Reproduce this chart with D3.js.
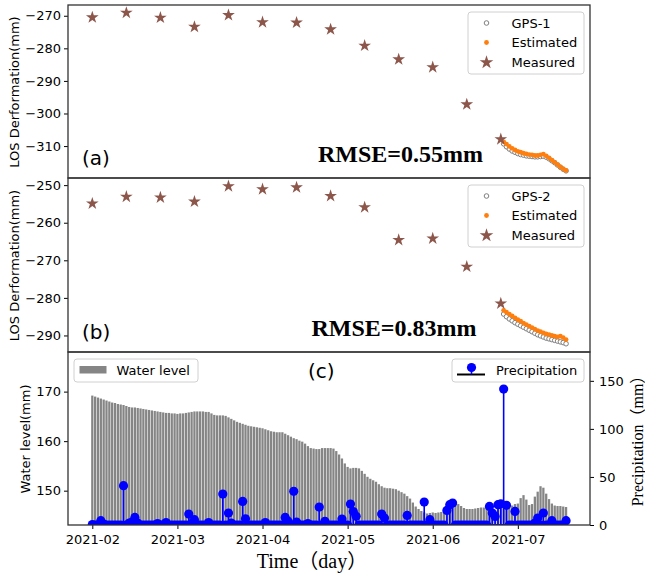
<!DOCTYPE html>
<html>
<head>
<meta charset="utf-8">
<script src="https://cdn.jsdelivr.net/npm/d3@7"></script>
<style>
  body { margin: 0; background: #fff; }
  svg text { font-family: "DejaVu Sans", sans-serif; }
  .serif { font-family: "Liberation Serif", "Noto Sans CJK SC", serif; }
</style>
</head>
<body>
<svg id="svg" width="645" height="580"></svg>
<script>
// Daily series start on this date
const startDate = "2021-02-01";
const gpsStart = "2021-06-26";

// InSAR measured epochs (12-day revisit)
const measuredDates = ["2021-02-01", "2021-02-13", "2021-02-25", "2021-03-09", "2021-03-21", "2021-04-02",
  "2021-04-14", "2021-04-26", "2021-05-08", "2021-05-20", "2021-06-01", "2021-06-13", "2021-06-25"];
const measured1 = [-270.5, -269.1, -270.6, -273.4, -269.8, -272.0, -272.1, -274.2, -279.2, -283.4, -285.8, -297.2, -307.9];
const measured2 = [-254.9, -253.1, -253.3, -254.4, -250.3, -251.1, -250.6, -252.9, -255.9, -264.6, -264.2, -271.7, -281.5];

// GPS and estimated daily values from gpsStart
const gps1 = [-309.3, -310.2, -310.9, -311.5, -311.9, -312.3, -312.6, -312.8, -313.0, -313.1, -313.2, -313.3,
  -313.3, -313.2, -313.1, -313.4, -313.9, -314.5, -315.1, -315.8, -316.5, -317.1, -317.6];
const est1 = [-308.7, -309.4, -310.1, -310.7, -311.2, -311.6, -311.9, -312.2, -312.4, -312.6, -312.7, -312.9,
  -312.9, -312.7, -312.5, -313.0, -313.6, -314.3, -315.0, -315.7, -316.4, -317.0, -317.5];
const gps2 = [-284.3, -285.0, -285.6, -286.1, -286.6, -287.0, -287.4, -287.8, -288.2, -288.6, -289.0, -289.4,
  -289.8, -290.1, -290.4, -290.7, -290.9, -291.1, -291.3, -291.5, -291.7, -291.9, -292.2];
const est2 = [-283.3, -283.8, -284.3, -284.8, -285.3, -285.8, -286.2, -286.7, -287.1, -287.5, -287.9, -288.3,
  -288.7, -289.0, -289.3, -289.6, -289.8, -290.0, -290.2, -290.4, -290.2, -290.6, -291.1];

// Daily water level, Feb 1 .. Jul 18
const waterLevel = [
  169.2, 169.0, 168.8, 168.6, 168.4, 168.2, 168.0, 167.8, 167.7, 167.5, 167.4, 167.3, 167.1, 166.9, 166.8, 166.8,
  166.7, 166.6, 166.5, 166.4, 166.3, 166.2, 166.1, 166.0, 165.9, 165.8, 165.7, 165.7,
  165.6, 165.6, 165.5, 165.6, 165.6, 165.7, 165.8, 165.9, 166.0, 166.0, 166.0, 166.0, 165.9, 165.9, 165.6, 165.3,
  165.2, 165.2, 165.2, 165.1, 164.8, 164.5, 164.2, 163.9, 163.7, 163.5, 163.3, 163.1, 163.0, 162.9, 162.8,
  162.7, 162.6, 162.4, 162.2, 162.0, 161.9, 161.8, 161.8, 161.8, 161.5, 161.2, 160.9, 160.6, 160.4, 160.1, 159.9,
  159.5, 159.0, 158.6, 158.5, 158.4, 158.4, 158.6, 158.6, 158.6, 158.6, 158.5, 158.0, 157.3, 156.5,
  155.5, 154.8, 154.5, 154.6, 154.6, 154.5, 154.0, 153.4, 152.8, 152.4, 152.1, 151.8, 151.3, 150.9, 150.6, 150.5,
  150.5, 150.4, 150.3, 150.0, 149.7, 149.4, 148.9, 148.4, 147.6, 146.8, 146.3, 145.9, 145.6, 145.4, 145.5,
  145.6, 145.5, 145.6, 145.7, 145.9, 146.9, 147.8, 147.8, 147.5, 147.3, 146.9, 146.5, 146.3, 146.3, 146.3, 146.4,
  146.5, 146.6, 146.6, 146.5, 146.0, 145.5, 145.8, 146.4, 147.0, 147.1, 147.1, 147.0, 147.0, 147.3,
  147.4, 148.5, 149.1, 148.2, 147.1, 147.3, 148.8, 149.8, 150.9, 150.6, 149.4, 148.3, 147.4, 147.0, 146.9, 146.9,
  146.8, 146.7
];

// Daily precipitation (mm), Feb 1 .. Jul 18
const precipitation = [
  0.5, 0, 0, 4.5, 1, 0, 0, 0, 0, 0, 0, 40.9, 0, 2, 3, 7.9, 2, 0, 0, 0, 0, 0, 0, 1.5, 0, 0, 2.5, 0,
  0, 0, 0, 0, 0, 0, 11.4, 1.5, 5.5, 0, 0, 0, 0, 2.5, 0, 0, 0, 0, 32.2, 0, 12.5, 2, 0, 0, 0, 24.5, 6.5, 0, 0, 0, 0,
  0, 0, 2.5, 0, 0, 0, 0, 0, 0, 7.9, 4, 0, 35, 3, 0, 0, 0, 1.5, 0, 0, 0, 18.7, 0, 3.8, 0, 0, 0, 0, 0, 6.2,
  0, 0, 21.8, 14, 9, 0, 0, 0, 0, 0, 0, 0, 0, 11.4, 7.3, 0, 0, 0, 0, 0, 0, 0, 10, 0, 0, 0, 0, 0, 23.9, 0, 5.5,
  0, 0, 0, 0, 0, 15.2, 21.1, 22.9, 0, 0, 0, 0, 0, 0, 0, 0, 0, 0, 0, 0, 19.3, 12.5, 8.9, 21.1, 22.1, 141.4, 20.5, 0, 0, 14.1,
  0, 0, 0, 0, 0, 0, 2, 7.3, 0, 12.5, 0, 0, 4.5, 0, 0, 0, 0, 4.5
];

// Axis ticks and labels
const xTickDates = ["2021-02-01", "2021-03-03", "2021-04-02", "2021-05-02", "2021-06-01", "2021-07-01"];
const yTicksA = [-310, -300, -290, -280, -270];
const yTicksB = [-290, -280, -270, -260, -250];
const yTicksWater = [150, 160, 170];
const yTicksRain = [0, 50, 100, 150];

const colors = {
  measured: "#8c564b",
  estimated: "#ff7f0e",
  gps: "#7f7f7f",
  water: "#858585",
  rain: "#0000ff",
  frame: "#333"
};

const attr = {
  left: 68,
  right: 590,
  panels: [{ top: 5, bottom: 178 }, { top: 178, bottom: 352 }, { top: 352, bottom: 525 }]
};

const svg = d3.select("svg#svg");
const parseDate = d3.utcParse("%Y-%m-%d");
const dayMs = 864e5;
const t0 = parseDate(startDate);
const dayAt = (start, i) => d3.utcDay.offset(parseDate(start), i);

const x = d3.scaleUtc()
  .domain([new Date(+t0 - 8.57 * dayMs), new Date(+t0 + 175.44 * dayMs)])
  .range([attr.left, attr.right]);

var translate = function(a, b) {
  return "translate(" + a + "," + b + ")";
};

var styleAxis = function(g) {
  g.attr("font-family", "DejaVu Sans").attr("font-size", 13);
  g.select(".domain").remove();
  g.selectAll(".tick line").attr("stroke", "#000").attr("stroke-width", 1);
  g.selectAll(".tick text").attr("fill", "#000");
};

var addClip = function(id, p) {
  svg.append("clipPath").attr("id", id)
    .append("rect")
    .attr("x", attr.left).attr("y", p.top)
    .attr("width", attr.right - attr.left).attr("height", p.bottom - p.top);
  return "url(#" + id + ")";
};

var drawFrame = function(p) {
  svg.append("rect")
    .attr("x", attr.left).attr("y", p.top)
    .attr("width", attr.right - attr.left).attr("height", p.bottom - p.top)
    .attr("fill", "none")
    .attr("stroke", colors.frame)
    .attr("stroke-width", 1.3);
};

var starPath = d3.symbol().type(d3.symbolStar);

var drawDeformation = function(opt) {
  let p = opt.panel;
  let y = d3.scaleLinear().domain(opt.domain).range([p.bottom, p.top]);
  let clip = addClip(opt.id, p);
  let g = svg.append("g").attr("clip-path", clip);

  let gpsData = opt.gps.map((v, i) => ({ date: dayAt(gpsStart, i), v: v }));
  let estData = opt.est.map((v, i) => ({ date: dayAt(gpsStart, i), v: v }));
  let measData = opt.measured.map((v, i) => ({ date: parseDate(measuredDates[i]), v: v }));

  g.selectAll("circle.gps")
    .data(gpsData).enter().append("circle")
    .attr("class", "gps")
    .attr("cx", d => x(d.date)).attr("cy", d => y(d.v))
    .attr("r", 2.3)
    .attr("fill", "#fff").attr("stroke", colors.gps).attr("stroke-width", 1);

  g.selectAll("circle.est")
    .data(estData).enter().append("circle")
    .attr("class", "est")
    .attr("cx", d => x(d.date)).attr("cy", d => y(d.v))
    .attr("r", 2.4)
    .attr("fill", colors.estimated);

  g.selectAll("path.meas")
    .data(measData).enter().append("path")
    .attr("class", "meas")
    .attr("d", starPath.size(50)())
    .attr("transform", d => translate(x(d.date), y(d.v)))
    .attr("fill", colors.measured);

  svg.append("g")
    .attr("transform", translate(attr.left, 0))
    .call(d3.axisLeft(y).tickValues(opt.ticks).tickSize(4).tickPadding(3))
    .call(styleAxis);

  drawFrame(p);

  // panel label and RMSE
  svg.append("text")
    .attr("x", 82).attr("y", opt.labelY)
    .attr("font-size", 20)
    .text(opt.label);

  svg.append("text")
    .attr("class", "serif")
    .attr("x", opt.rmseX).attr("y", opt.labelY - 3)
    .attr("font-size", 24).attr("font-weight", "bold")
    .text(opt.rmse);

  svg.append("text")
    .attr("transform", translate(19, (p.top + p.bottom) / 2 + 0.5) + " rotate(-90)")
    .attr("text-anchor", "middle")
    .attr("font-size", 13)
    .text("LOS Derformation(mm)");

  // legend
  let lg = svg.append("g").attr("transform", translate(468, p.top + 7));
  lg.append("rect")
    .attr("width", 116).attr("height", 62).attr("rx", 3)
    .attr("fill", "#fff").attr("fill-opacity", 0.8)
    .attr("stroke", "#d0d0d0").attr("stroke-width", 1);
  let rows = [opt.gpsName, "Estimated", "Measured"];
  rows.forEach(function(name, i) {
    let cy = 11 + i * 19.5;
    if (i == 0) {
      lg.append("circle").attr("cx", 18.5).attr("cy", cy).attr("r", 2.3)
        .attr("fill", "#fff").attr("stroke", colors.gps).attr("stroke-width", 1);
    } else if (i == 1) {
      lg.append("circle").attr("cx", 18.5).attr("cy", cy).attr("r", 2.4)
        .attr("fill", colors.estimated);
    } else {
      lg.append("path").attr("d", starPath.size(58)())
        .attr("transform", translate(18.5, cy + 0.5))
        .attr("fill", colors.measured);
    }
    lg.append("text")
      .attr("x", 43.5).attr("y", cy + 4.6)
      .attr("font-size", 13)
      .text(name);
  });
};

drawDeformation({
  id: "clipA", panel: attr.panels[0], domain: [-319.8, -266.7], ticks: yTicksA,
  gps: gps1, est: est1, measured: measured1, gpsName: "GPS-1",
  label: "(a)", labelY: 165, rmse: "RMSE=0.55mm", rmseX: 318
});

drawDeformation({
  id: "clipB", panel: attr.panels[1], domain: [-294.4, -248.1], ticks: yTicksB,
  gps: gps2, est: est2, measured: measured2, gpsName: "GPS-2",
  label: "(b)", labelY: 339, rmse: "RMSE=0.83mm", rmseX: 311.5
});

// Panel (c): water level bars + precipitation stems
(function() {
  let p = attr.panels[2];
  let yL = d3.scaleLinear().domain([143.07, 178]).range([p.bottom, p.top]);
  let yR = d3.scaleLinear().domain([0, 180]).range([p.bottom, p.top]);
  let clip = addClip("clipC", p);
  let g = svg.append("g").attr("clip-path", clip);

  let water = waterLevel.map((v, i) => ({ date: dayAt(startDate, i), v: v }));
  let rain = precipitation.map((v, i) => ({ date: dayAt(startDate, i), v: v }));
  let barW = x(new Date(+t0 + 0.8 * dayMs)) - x(t0);

  g.selectAll("rect.bar")
    .data(water).enter().append("rect")
    .attr("class", "bar")
    .attr("x", d => x(d.date) - barW / 2)
    .attr("y", d => yL(d.v))
    .attr("width", barW)
    .attr("height", d => p.bottom - yL(d.v))
    .attr("fill", colors.water);

  g.selectAll("line.stem")
    .data(rain).enter().append("line")
    .attr("class", "stem")
    .attr("x1", d => x(d.date)).attr("x2", d => x(d.date))
    .attr("y1", yR(0)).attr("y2", d => yR(d.v))
    .attr("stroke", colors.rain).attr("stroke-width", 1.6);

  g.append("line")
    .attr("x1", x(rain[0].date)).attr("x2", x(rain[rain.length - 1].date))
    .attr("y1", yR(0)).attr("y2", yR(0))
    .attr("stroke", colors.rain).attr("stroke-width", 2);

  g.selectAll("circle.rain")
    .data(rain).enter().append("circle")
    .attr("class", "rain")
    .attr("cx", d => x(d.date)).attr("cy", d => yR(d.v))
    .attr("r", 4.6)
    .attr("fill", colors.rain);

  svg.append("g")
    .attr("transform", translate(attr.left, 0))
    .call(d3.axisLeft(yL).tickValues(yTicksWater).tickSize(4).tickPadding(3))
    .call(styleAxis);

  svg.append("g")
    .attr("transform", translate(attr.right, 0))
    .call(d3.axisRight(yR).tickValues(yTicksRain).tickSize(4).tickPadding(5))
    .call(styleAxis);

  svg.append("g")
    .attr("transform", translate(0, p.bottom))
    .call(d3.axisBottom(x).tickValues(xTickDates.map(parseDate))
      .tickFormat(d3.utcFormat("%Y-%m")).tickSize(4).tickPadding(6))
    .call(styleAxis);

  drawFrame(p);

  svg.append("text")
    .attr("x", 308).attr("y", 378)
    .attr("font-size", 20)
    .text("(c)");

  svg.append("text")
    .attr("transform", translate(30, 439) + " rotate(-90)")
    .attr("text-anchor", "middle")
    .attr("font-size", 13)
    .text("Water level(mm)");

  svg.append("text")
    .attr("class", "serif")
    .attr("transform", translate(643, 437) + " rotate(-90)")
    .attr("text-anchor", "middle")
    .attr("font-size", 16)
    .text("Precipitation（mm）");

  svg.append("text")
    .attr("class", "serif")
    .attr("x", 312).attr("y", 568)
    .attr("text-anchor", "middle")
    .attr("font-size", 20)
    .text("Time（day）");

  // water level legend
  let lw = svg.append("g").attr("transform", translate(74, 359));
  lw.append("rect").attr("width", 124).attr("height", 23).attr("rx", 3)
    .attr("fill", "#fff").attr("fill-opacity", 0.8)
    .attr("stroke", "#d0d0d0");
  lw.append("rect").attr("x", 5.5).attr("y", 7).attr("width", 27).attr("height", 7.5)
    .attr("fill", colors.water);
  lw.append("text").attr("x", 42.5).attr("y", 16).attr("font-size", 13).text("Water level");

  // precipitation legend
  let lp = svg.append("g").attr("transform", translate(452, 359));
  lp.append("rect").attr("width", 132).attr("height", 23).attr("rx", 3)
    .attr("fill", "#fff").attr("fill-opacity", 0.8)
    .attr("stroke", "#d0d0d0");
  lp.append("line").attr("x1", 5).attr("x2", 33).attr("y1", 15.5).attr("y2", 15.5)
    .attr("stroke", "#000").attr("stroke-width", 2);
  lp.append("line").attr("x1", 19.5).attr("x2", 19.5).attr("y1", 8.5).attr("y2", 15.5)
    .attr("stroke", colors.rain).attr("stroke-width", 1.6);
  lp.append("circle").attr("cx", 19.5).attr("cy", 8.5).attr("r", 4.6).attr("fill", colors.rain);
  lp.append("text").attr("x", 44).attr("y", 16).attr("font-size", 13).text("Precipitation");
})();
</script>
</body>
</html>
